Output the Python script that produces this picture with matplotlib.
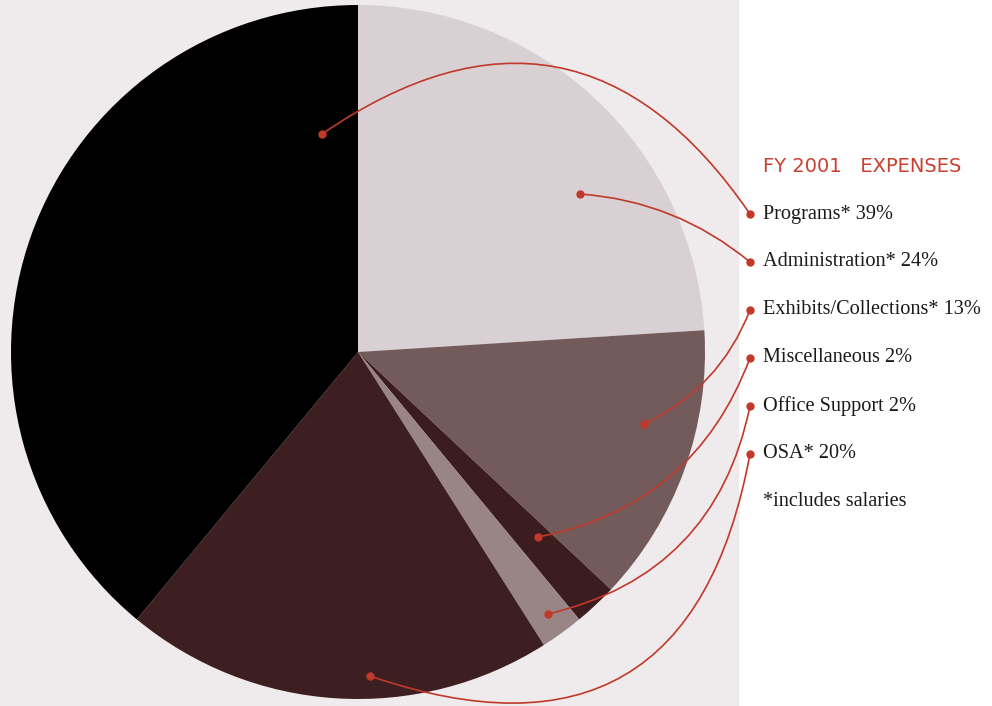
import numpy as np
import matplotlib.pyplot as plt
from matplotlib.patches import Rectangle

# FY 2001 expenses, clockwise from 12 o'clock
categories = ['Administration*', 'Exhibits/Collections*', 'Miscellaneous',
              'Office Support', 'OSA*', 'Programs*']
shares = [24, 13, 2, 2, 20, 39]
colors = ['#d8d0d2', '#735a5b', '#3b1d1f', '#9a8586', '#3d1f21', '#000000']

# legend order (top to bottom)
legend_order = ['Programs*', 'Administration*', 'Exhibits/Collections*',
                'Miscellaneous', 'Office Support', 'OSA*']
legend_names = ['Programs* 39%', 'Administration* 24%', 'Exhibits/Collections* 13%',
                'Miscellaneous 2%', 'Office Support 2%', 'OSA* 20%']
# where each leader line starts inside the pie (pixels) and how much it bends
anchor_px = {'Programs*': (322, 134), 'Administration*': (580, 194),
             'Exhibits/Collections*': (644, 424), 'Miscellaneous': (538, 537),
             'Office Support': (548, 614), 'OSA*': (370, 676)}
bend = {'Programs*': -0.5, 'Administration*': -0.16, 'Exhibits/Collections*': 0.2,
        'Miscellaneous': 0.28, 'Office Support': 0.32, 'OSA*': 0.58}

W, H = 992, 706
red = '#c0392b'

fig = plt.figure(figsize=(W / 100, H / 100), dpi=100)
ax = fig.add_axes([0, 0, 1, 1])
ax.add_patch(Rectangle((0, 0), 738, H, color='#efeaeb', zorder=0))

cx, cy, r = 358, H - 352, 347
ax.pie(shares, colors=colors, startangle=90, counterclock=False,
       center=(cx, cy), radius=r, wedgeprops=dict(linewidth=0), frame=True)

ax.set_xlim(0, W)
ax.set_ylim(0, H)
ax.set_aspect('auto')
ax.axis('off')

# title and legend
ax.text(763, H - 166, 'FY 2001   EXPENSES', color='#c8402f', fontsize=14,
        family='DejaVu Sans', va='center', ha='left')

for i, (key, name) in enumerate(zip(legend_order, legend_names)):
    ly = H - (214 + 48 * i)
    ax.text(763, ly, name, fontsize=14.6, family='Liberation Serif',
            color='#1a1a1a', va='center', ha='left')
    sx, sy = anchor_px[key]
    sy = H - sy
    ax.annotate('', xy=(750, ly), xytext=(sx, sy),
                arrowprops=dict(arrowstyle='-', color=red, lw=1.2,
                                connectionstyle=f'arc3,rad={bend[key]}',
                                shrinkA=0, shrinkB=0))
    ax.plot([sx, 750], [sy, ly], 'o', color=red, markersize=5, zorder=5)

ax.text(763, H - 502, '*includes salaries', fontsize=14.6, family='Liberation Serif',
        color='#1a1a1a', va='center', ha='left')

fig.savefig('out.png', dpi=100)
